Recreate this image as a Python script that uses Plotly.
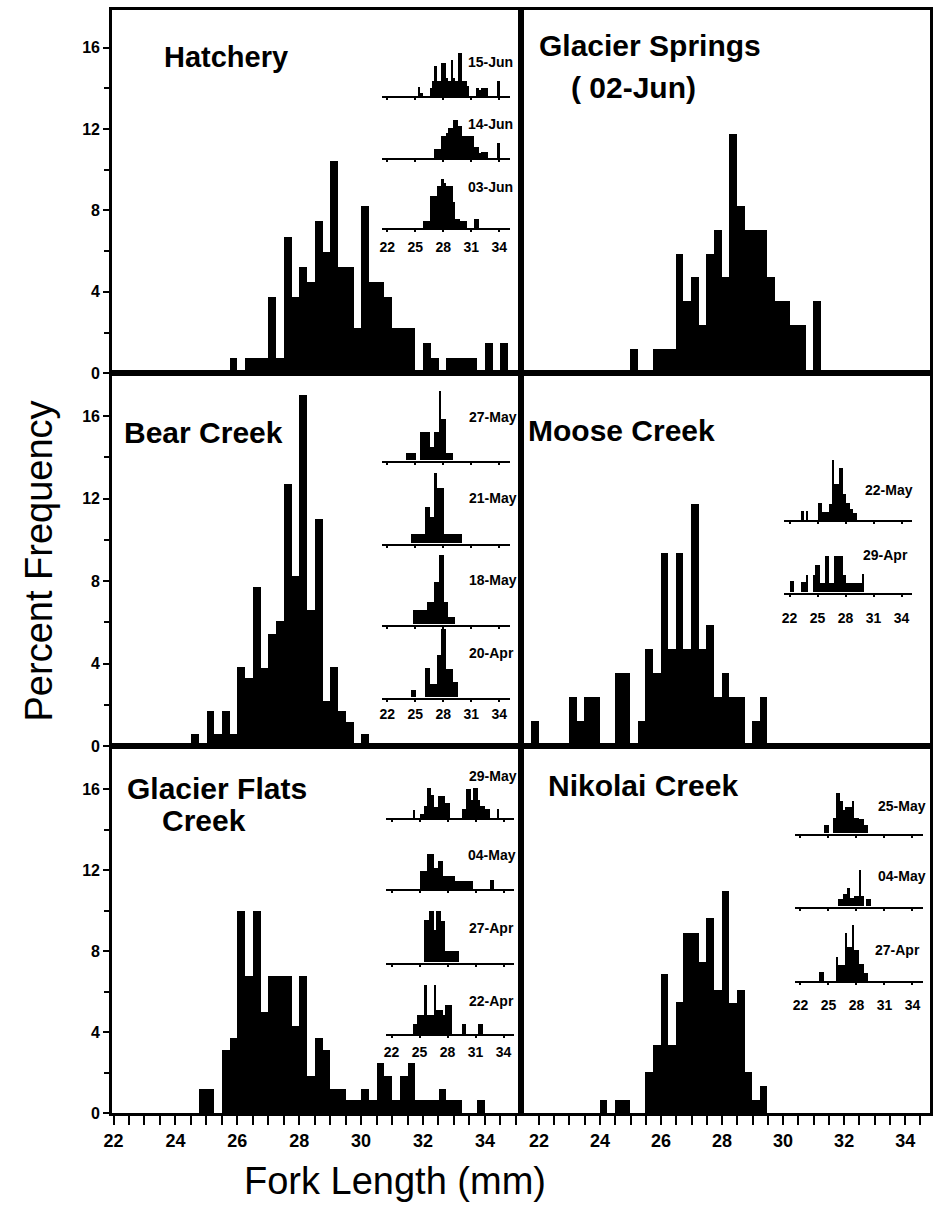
import plotly.graph_objects as go

W, H = 933, 1220
BIN = 0.25

# ---------------- main histograms (percent frequency, 0.25 mm bins) ----------------
hatchery_start = 25.75
hatchery_pct = [0.75, 0, 0.75, 0.75, 0.75, 3.73, 0.75, 6.72, 3.73, 5.22,
                4.48, 7.46, 5.97, 10.45, 5.22, 5.22, 2.24, 8.21, 4.48, 4.48,
                3.73, 2.24, 2.24, 2.24, 0, 1.49, 0.75, 0, 0.75, 0.75,
                0.75, 0.75, 0, 1.49, 0, 1.49]

springs_start = 25.0
springs_pct = [1.18, 0, 0, 1.18, 1.18, 1.18, 5.88, 3.53, 4.71, 2.35,
               5.88, 7.06, 4.71, 11.76, 8.24, 7.06, 7.06, 7.06, 4.71, 3.53,
               3.53, 2.35, 2.35, 0, 3.53]

bear_start = 24.5
bear_pct = [0.6, 0, 1.68, 0.6, 1.68, 0.6, 3.85, 3.29, 7.7, 3.77,
            5.45, 6.04, 12.7, 8.25, 17.0, 6.57, 11.0, 2.2, 3.85, 1.68,
            1.15, 0, 0.6]

moose_start = 21.75
moose_pct = [1.2, 0, 0, 0, 0, 2.36, 1.2, 2.36, 2.36, 0,
             0, 3.53, 3.53, 0, 1.2, 4.68, 3.53, 9.37, 4.68, 9.37,
             4.68, 11.75, 4.68, 5.85, 2.36, 3.53, 2.36, 2.36, 0, 1.2, 2.36]

flats_start = 24.75
flats_pct = [1.22, 1.22, 0, 3.1, 3.7, 9.96, 6.78, 9.96, 4.98, 6.78,
             6.78, 6.78, 4.33, 6.78, 1.83, 3.7, 3.1, 1.22, 1.22, 0.64,
             0.64, 1.22, 0.64, 2.48, 1.83, 0.64, 1.83, 2.48, 0.64, 0.64,
             0.64, 1.22, 0.64, 0.64, 0, 0, 0.64]

nikolai_start = 24.0
nikolai_pct = [0.65, 0, 0.65, 0.65, 0, 0, 2.04, 3.38, 6.86, 3.38,
               5.47, 8.9, 8.9, 7.48, 9.63, 6.09, 10.97, 5.44, 6.1, 2.04,
               0.65, 1.34]

# ---------------- inset histograms (sampling dates) ----------------
h15jun_start = 25.25
h15jun = [4.5, 1.5, 0, 0, 0, 4, 8, 15.5, 8, 8, 17, 17, 9.5, 8, 18.5, 9.5, 8, 22, 22, 8,
          8, 5, 0, 0, 0, 4, 3, 4, 4, 4, 0, 0, 0, 0, 8]
h14jun_start = 27.0
h14jun = [4.5, 4.5, 4.5, 11.5, 11.5, 13, 15.5, 15.5, 19.5, 19.5, 16.5, 16.5, 11.5, 11.5,
          11.5, 11.5, 11.5, 5.5, 5.5, 2.5, 3, 3, 3, 0, 0, 0, 0, 8]
h03jun_start = 25.75
h03jun = [3.5, 3.5, 3.5, 16.5, 16.5, 16.5, 21.5, 21.5, 25, 23, 21.5, 21.5, 21.5, 13.5,
          4.5, 4.5, 3.5, 3.5, 3.5, 0, 0, 0, 4.5, 4.5]

b27may_start = 24.0
b27may = [3.7, 3.7, 3.7, 3.7, 0, 0, 14.5, 14.5, 14.5, 14.5, 7, 7, 14.5, 14.5, 35, 21, 21,
          3.5, 3.5, 3.5]
b21may_start = 24.5
b21may = [4.5, 4.5, 4.5, 4.5, 4.5, 4.5, 18.5, 18.5, 13.5, 13.5, 35.5, 28, 28, 28,
          4.5, 4.5, 4.5, 4.5, 4.5, 4.5, 4.5, 4.5]
b18may_start = 24.75
b18may = [7.5, 7.5, 7.5, 7.5, 7.5, 7.5, 11.5, 11.5, 11.5, 21.5, 21.5, 35, 35, 11.5, 11.5,
          3.8, 3.8, 3.8]
b20apr_start = 24.5
b20apr = [3.5, 3.5, 0, 0, 0, 0, 15, 15, 7, 7, 7, 21.5, 21.5, 34.5, 34.5, 14.5, 14.5,
          14.5, 8, 8]

g29may_start = 24.25
g29may = [4, 0, 0, 2, 2, 6.5, 15.5, 15.5, 12, 5.5, 5.5, 11.5, 11.5, 11.5, 8, 8, 0, 0, 0,
          0, 0, 4.5, 4.5, 15, 15, 9.5, 15.5, 15.5, 9.5, 6.5, 6.5, 4.5, 4.5, 0, 0, 0, 4.5, 0]
g04may_start = 25.0
g04may = [9.5, 9.5, 9.5, 18, 18, 18, 11, 11, 14.5, 14.5, 7, 7, 7, 7, 7, 4, 4, 4, 4, 4, 4,
          4, 4, 0, 0, 0, 0, 0, 0, 0, 4.5, 4.5]
g27apr_start = 25.5
g27apr = [21.5, 21.5, 26, 26, 16.5, 26, 26, 21, 21, 6, 6, 6, 6, 6, 6]
g22apr_start = 24.25
g22apr = [5, 5, 10, 10, 10, 25, 10, 10, 10, 25, 12.5, 12.5, 12.5, 10, 15, 15, 15, 0, 0, 0,
          0, 5, 5, 0, 0, 0, 0, 0, 5, 5]

m22may_start = 23.25
m22may = [4.5, 0, 4.5, 0, 0, 0, 0, 9, 9, 4, 4, 4, 8.5, 30.5, 18.5, 18.5, 26.5, 26.5, 13.5,
          9, 9, 5.5, 3.5, 3.5]
m29apr_start = 22.0
m29apr = [5.5, 5.5, 0, 0, 0, 5, 5, 9, 0, 0, 9, 14, 14, 4.5, 4.5, 18.5, 18.5, 4.5, 4.5,
          18.5, 18.5, 18.5, 18.5, 9, 4.5, 4.5, 4.5, 4.5, 4.5, 4.5, 4.5, 9.5]

n25may_start = 24.5
n25may = [4, 4, 0, 0, 8, 20.5, 20.5, 16.5, 12, 13.5, 13.5, 13.5, 16.5, 8, 8, 7.5, 7.5, 4, 4]
n04may_start = 26.0
n04may = [3.5, 3.5, 6.5, 6.5, 9.5, 4, 4, 5, 5, 18.5, 5, 0, 3.5, 3.5]
n27apr_start = 24.0
n27apr = [4.5, 4.5, 0, 0, 0, 0, 0, 12.5, 8.5, 8.5, 8.5, 24.5, 17.5, 17.5, 28.5, 16, 16, 9,
          9, 4, 4]

main_ticks = [22, 24, 26, 28, 30, 32, 34]
inset_ticks = [22, 25, 28, 31, 34]
y_ticks = [0, 4, 8, 12, 16]

FONT = "Liberation Sans, Arial, sans-serif"

fig = go.Figure()
layout = {}
n_axes = [0]


def xp(px):
    return px / W


def yp(py):
    return 1 - py / H


def new_axes(xdom_px, ydom_px, xrange, yrange, xopts=None, yopts=None):
    n_axes[0] += 1
    n = n_axes[0]
    sx = '' if n == 1 else str(n)
    xa = dict(domain=[xp(xdom_px[0]), xp(xdom_px[1])], range=xrange, anchor='y' + sx,
              showgrid=False, zeroline=False, fixedrange=True)
    ya = dict(domain=[yp(ydom_px[1]), yp(ydom_px[0])], range=yrange, anchor='x' + sx,
              showgrid=False, zeroline=False, fixedrange=True)
    xa.update(xopts or {})
    ya.update(yopts or {})
    layout['xaxis' + sx] = xa
    layout['yaxis' + sx] = ya
    return 'x' + sx, 'y' + sx


def add_hist(start, vals, axes):
    xs = [start + i * BIN + BIN / 2 for i in range(len(vals))]
    fig.add_trace(go.Bar(x=xs, y=vals, width=BIN, xaxis=axes[0], yaxis=axes[1],
                         marker=dict(color='black', line=dict(width=0)),
                         showlegend=False, hoverinfo='skip'))


# ---------------- main panels ----------------
LEFT = (105, 518.5)
RIGHT = (519, 932)
LEFT_R = [21.946, 35.165]
RIGHT_R = [21.426, 34.814]
ROWS = [((10, 376), [0, 17.85]), ((376, 751.7), [0, 18.08]), ((751.7, 1121.7), [0, 18.12])]

frame = dict(showline=True, mirror=True, linecolor='black', linewidth=2.5)
ytick_left = dict(tickmode='array', tickvals=y_ticks, ticks='outside', ticklen=6, tickwidth=2,
                  tickcolor='black', tickfont=dict(family=FONT, size=16, color='black', weight='bold'),
                  minor=dict(tickvals=[2, 6, 10, 14], ticks='outside', ticklen=5, tickwidth=2,
                             tickcolor='black'))
ynone = dict(showticklabels=False, ticks='')
xnone = dict(showticklabels=False, ticks='')
xbottom_common = dict(tickmode='array', tickvals=main_ticks, ticks='outside', ticklen=9, tickwidth=2,
                      tickcolor='black',
                      tickfont=dict(family=FONT, size=18, color='black', weight='bold'),
                      minor=dict(tickvals=[22 + 0.5 * k for k in range(27)], ticks='outside',
                                 ticklen=9, tickwidth=2, tickcolor='black'))

panels = [
    (0, 'L', hatchery_start, hatchery_pct),
    (0, 'R', springs_start, springs_pct),
    (1, 'L', bear_start, bear_pct),
    (1, 'R', moose_start, moose_pct),
    (2, 'L', flats_start, flats_pct),
    (2, 'R', nikolai_start, nikolai_pct),
]
for row, col, start, vals in panels:
    ydom, yr = ROWS[row]
    xdom = LEFT if col == 'L' else RIGHT
    xr = LEFT_R if col == 'L' else RIGHT_R
    xo = dict(frame)
    xo.update(xbottom_common if row == 2 else xnone)
    yo = dict(frame)
    yo.update(ytick_left if col == 'L' else ynone)
    ax = new_axes(xdom, ydom, xr, yr, xo, yo)
    add_hist(start, vals, ax)

# ---------------- insets ----------------
INSET_SCALE = 9.44  # px per mm
INSET_RANGE = [21.4, 35.1]


def add_inset(x22_px, base_px, start, vals, show_labels, label_gap=4):
    x0 = x22_px - (22 - INSET_RANGE[0]) * INSET_SCALE
    x1 = x22_px + (INSET_RANGE[1] - 22) * INSET_SCALE
    xo = dict(showline=True, linecolor='black', linewidth=2, tickmode='array',
              tickvals=inset_ticks, ticks='outside', ticklen=2, tickwidth=1.5, tickcolor='black',
              showticklabels=show_labels, ticklabelstandoff=label_gap,
              tickfont=dict(family=FONT, size=14, color='black', weight='bold'))
    yo = dict(visible=False)
    ax = new_axes((x0, x1), (base_px - 80, base_px), INSET_RANGE, [0, 40], xo, yo)
    add_hist(start, vals, ax)


# Hatchery
add_inset(383.3, 96.7, h15jun_start, h15jun, False)
add_inset(383.3, 159.3, h14jun_start, h14jun, False)
add_inset(383.3, 230, h03jun_start, h03jun, True, 3)
# Bear Creek
add_inset(383.3, 464, b27may_start, b27may, False)
add_inset(383.3, 547.7, b21may_start, b21may, False)
add_inset(383.3, 629.3, b18may_start, b18may, False)
add_inset(383.3, 702.7, b20apr_start, b20apr, True, 1)
# Glacier Flats
add_inset(387.7, 824, g29may_start, g29may, False)
add_inset(387.7, 895.7, g04may_start, g04may, False)
add_inset(387.7, 970, g27apr_start, g27apr, False)
add_inset(387.7, 1041.7, g22apr_start, g22apr, True, 2)
# Moose Creek
add_inset(790, 524, m22may_start, m22may, False)
add_inset(790, 597.3, m29apr_start, m29apr, True, 9)
# Nikolai Creek
add_inset(801, 840, n25may_start, n25may, False)
add_inset(801, 913.3, n04may_start, n04may, False)
add_inset(801, 988.3, n27apr_start, n27apr, True, 8)

# ---------------- text ----------------
annotations = []


def text(s, x, y, size, xanchor='center', bold=True, angle=0):
    annotations.append(dict(text=s, x=xp(x), y=yp(y), xref='paper', yref='paper',
                            xanchor=xanchor, yanchor='middle', showarrow=False, textangle=angle,
                            font=dict(family=FONT, size=size, color='black',
                                      weight='bold' if bold else 'normal')))


# panel titles (left-anchored; small offset compensates annotation padding)
TOFF = 6
text('Hatchery', 162 - TOFF, 57, 29, 'left')
text('Glacier Springs', 541 - TOFF, 46, 30, 'left')
text('( 02-Jun)', 573 - TOFF, 88, 30, 'left')
text('Bear Creek', 121 - TOFF, 436, 30, 'left')
text('Moose Creek', 530 - TOFF, 434, 30, 'left')
text('Glacier Flats', 124 - TOFF, 794, 30, 'left')
text('Creek', 160 - TOFF, 827, 30, 'left')
text('Nikolai Creek', 550 - TOFF, 791, 30, 'left')

# inset dates (right aligned)
dates = [
    ('15-Jun', 512, 62.7), ('14-Jun', 512, 125), ('03-Jun', 512, 188),
    ('27-May', 517, 420), ('21-May', 517, 501.7), ('18-May', 517, 584.3), ('20-Apr', 514, 658.3),
    ('29-May', 517, 781.7), ('04-May', 516, 861.7), ('27-Apr', 514, 935), ('22-Apr', 514, 1008.3),
    ('22-May', 917, 494), ('29-Apr', 912, 559.3),
    ('25-May', 930, 811.7), ('04-May', 930, 882.7), ('27-Apr', 924, 956.7),
]
for s, x, y in dates:
    text(s, x, y, 14, 'right')

# axis titles
text('Percent Frequency', 31, 565, 38, 'center', bold=False, angle=-90)
text('Fork Length (mm)', 391, 1190, 38, 'center', bold=False)

layout.update(dict(
    width=W, height=H, margin=dict(l=0, r=0, t=0, b=0),
    paper_bgcolor='white', plot_bgcolor='rgba(0,0,0,0)',
    bargap=0, showlegend=False, annotations=annotations,
    font=dict(family=FONT, color='black'),
))
fig.update_layout(layout)
fig.write_html("out.html")
